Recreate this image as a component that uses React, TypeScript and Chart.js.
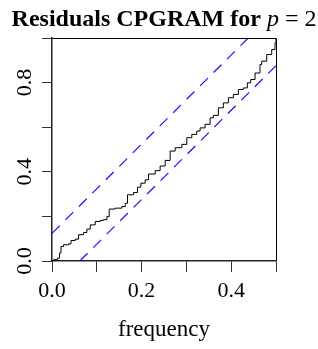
import React, { useEffect, useRef } from "react";
import { Chart, registerables } from "chart.js";

Chart.register(...registerables);

const titleBold = "Residuals CPGRAM for ";
const titleItalic = "p";
const titleRest = " = 2";
const xAxisTitle = "frequency";

const frequency = [
  0, 0.0036, 0.0125, 0.0169, 0.0201, 0.0259, 0.037, 0.0424, 0.0519, 0.0593,
  0.0704, 0.078, 0.0854, 0.0965, 0.1077, 0.115, 0.1226, 0.1277, 0.1411, 0.156,
  0.1634, 0.1685, 0.1819, 0.1908, 0.1984, 0.208, 0.2153, 0.2303, 0.2414,
  0.2526, 0.2637, 0.2749, 0.2898, 0.3009, 0.3121, 0.3232, 0.3306, 0.3417,
  0.3529, 0.3602, 0.3714, 0.3825, 0.3937, 0.4048, 0.416, 0.4271, 0.436,
  0.4436, 0.4532, 0.4643, 0.4681, 0.4793, 0.4904, 0.4978, 0.5,
];
const cumulativePeriodogram = [
  0, 0.006, 0.013, 0.036, 0.065, 0.073, 0.077, 0.092, 0.098, 0.118, 0.128,
  0.143, 0.162, 0.177, 0.182, 0.185, 0.199, 0.233, 0.237, 0.244, 0.259, 0.297,
  0.307, 0.331, 0.349, 0.364, 0.39, 0.405, 0.426, 0.451, 0.493, 0.508, 0.523,
  0.553, 0.568, 0.583, 0.597, 0.613, 0.642, 0.653, 0.687, 0.709, 0.732, 0.747,
  0.769, 0.776, 0.799, 0.814, 0.843, 0.881, 0.896, 0.926, 0.948, 0.978, 1.0,
];
const criticalValue = 0.124;
const maxFrequency = 0.5;

const xTickValues = [0, 0.1, 0.2, 0.3, 0.4, 0.5];
const xTickLabels = ["0.0", "", "0.2", "", "0.4", ""];
const yTickValues = [0, 0.2, 0.4, 0.6, 0.8, 1.0];
const yTickLabels = ["0.0", "", "0.4", "", "0.8", ""];

const SERIF = "'Liberation Serif', serif";
const BLUE = "rgb(20, 20, 255)";

const titlePlugin = {
  id: "mixedTitle",
  afterDraw(chart: any) {
    const { ctx, chartArea } = chart;
    const parts = [
      { text: titleBold, font: `bold 24px ${SERIF}` },
      { text: titleItalic, font: `italic 24px ${SERIF}` },
      { text: titleRest, font: `24px ${SERIF}` },
    ];
    ctx.save();
    let total = 0;
    const widths = parts.map((p) => {
      ctx.font = p.font;
      const w = ctx.measureText(p.text).width;
      total += w;
      return w;
    });
    let x = (chartArea.left + chartArea.right) / 2 - total / 2;
    ctx.fillStyle = "#000";
    ctx.textBaseline = "alphabetic";
    ctx.textAlign = "left";
    parts.forEach((p, i) => {
      ctx.font = p.font;
      ctx.fillText(p.text, x, 26);
      x += widths[i];
    });
    ctx.restore();
  },
};

const boxPlugin = {
  id: "plotBox",
  afterDatasetsDraw(chart: any) {
    const { ctx, chartArea } = chart;
    ctx.save();
    ctx.setLineDash([]);
    ctx.strokeStyle = "#000";
    ctx.lineWidth = 1;
    ctx.beginPath();
    ctx.moveTo(chartArea.left, chartArea.top + 0.5);
    ctx.lineTo(chartArea.right + 0.5, chartArea.top + 0.5);
    ctx.lineTo(chartArea.right + 0.5, chartArea.bottom);
    ctx.stroke();
    ctx.restore();
  },
};

export default function App() {
  const ref = useRef<HTMLCanvasElement | null>(null);
  useEffect(() => {
    if (!ref.current) return;
    const chart = new Chart(ref.current, {
      type: "line",
      data: {
        datasets: [
          {
            data: [
              { x: 0, y: criticalValue },
              { x: maxFrequency * (1 - criticalValue), y: 1 },
            ],
            borderColor: BLUE,
            borderWidth: 1.2,
            borderDash: [11, 8],
            pointRadius: 0,
            fill: false,
          },
          {
            data: [
              { x: maxFrequency * criticalValue, y: 0 },
              { x: maxFrequency, y: 1 - criticalValue },
            ],
            borderColor: BLUE,
            borderWidth: 1.2,
            borderDash: [11, 8],
            pointRadius: 0,
            fill: false,
          },
          {
            data: frequency.map((f, i) => ({ x: f, y: cumulativePeriodogram[i] })),
            borderColor: "#000",
            borderWidth: 1,
            pointRadius: 0,
            stepped: "before",
            fill: false,
          },
        ],
      },
      options: {
        responsive: false,
        animation: false,
        layout: { padding: { top: 38, right: 42, left: 0, bottom: 0 } },
        plugins: {
          legend: { display: false },
          tooltip: { enabled: false },
          title: { display: false },
        },
        scales: {
          x: {
            type: "linear",
            min: 0,
            max: maxFrequency,
            afterFit: (s: any) => {
              s.height = 88;
            },
            afterBuildTicks: (s: any) => {
              s.ticks = xTickValues.map((v) => ({ value: v }));
            },
            ticks: {
              autoSkip: false,
              maxRotation: 0,
              minRotation: 0,
              padding: 6,
              color: "#000",
              font: { family: SERIF, size: 22 },
              callback: (_v: any, i: number) => xTickLabels[i],
            },
            grid: {
              drawOnChartArea: false,
              drawTicks: true,
              tickLength: 11,
              color: "#333",
            },
            border: { display: true, color: "#222", width: 1.5 },
            title: {
              display: true,
              text: xAxisTitle,
              color: "#000",
              font: { family: SERIF, size: 23 },
              padding: { top: 0, bottom: 5 },
            },
          },
          y: {
            type: "linear",
            min: 0,
            max: 1,
            afterFit: (s: any) => {
              s.width = 52;
            },
            afterBuildTicks: (s: any) => {
              s.ticks = yTickValues.map((v) => ({ value: v }));
            },
            ticks: {
              autoSkip: false,
              minRotation: 90,
              maxRotation: 90,
              crossAlign: "center",
              padding: 3,
              color: "#000",
              font: { family: SERIF, size: 22 },
              callback: (_v: any, i: number) => yTickLabels[i],
            },
            grid: {
              drawOnChartArea: false,
              drawTicks: true,
              tickLength: 10,
              color: "#333",
            },
            border: { display: true, color: "#222", width: 1.5 },
          },
        },
      },
      plugins: [titlePlugin, boxPlugin],
    });
    return () => chart.destroy();
  }, []);
  return (
    <div style={{ position: "absolute", left: 0, top: 0, width: 318, height: 349 }}>
      <canvas ref={ref} width={318} height={349} />
    </div>
  );
}
